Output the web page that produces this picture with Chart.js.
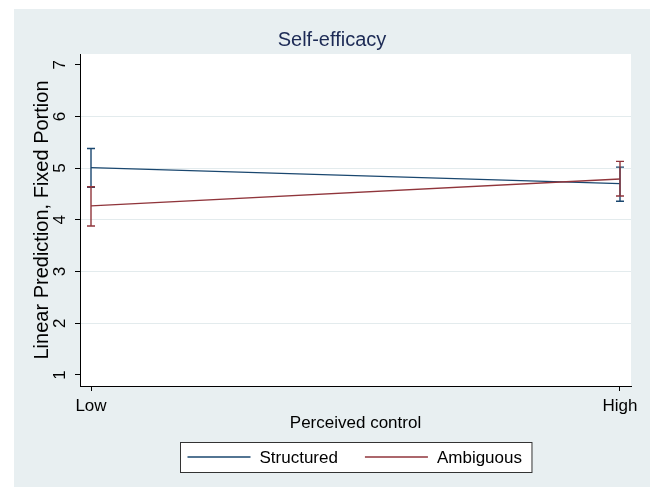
<!DOCTYPE html>
<html>
<head>
<meta charset="utf-8">
<script src="https://cdn.jsdelivr.net/npm/chart.js@4"></script>
<style>
  body { margin: 0; background: #fff; }
  canvas { display: block; }
</style>
</head>
<body>
<canvas id="marginsChart" width="650" height="488"></canvas>
<script>
const categories = ['Low', 'High']
const xPositions = [0, 1]
const yTicks = [1, 2, 3, 4, 5, 6, 7]

const seriesNames = ['Structured', 'Ambiguous']
const seriesColors = ['#1A476F', '#90353B']

const structuredFit = [5.01, 4.70]
const structuredLower = [4.63, 4.36]
const structuredUpper = [5.38, 5.02]

const ambiguousFit = [4.27, 4.79]
const ambiguousLower = [3.88, 4.46]
const ambiguousUpper = [4.64, 5.13]

const bgColor = '#E8EFF1'
const fontFamily = '"Liberation Sans", Arial, sans-serif'

const toPoints = (values) => values.map((v, i) => ({ x: xPositions[i], y: v }))

const bounds = [
  { lower: structuredLower, upper: structuredUpper },
  { lower: ambiguousLower, upper: ambiguousUpper }
]

const backgroundPlugin = {
  id: 'stataBackground',
  beforeDraw(chart) {
    const { ctx, chartArea } = chart
    ctx.save()
    ctx.fillStyle = '#fff'
    ctx.fillRect(0, 0, chart.width, chart.height)
    ctx.fillStyle = bgColor
    ctx.fillRect(14, 9, chart.width - 14, chart.height - 10)
    ctx.fillStyle = '#fff'
    ctx.fillRect(chartArea.left, chartArea.top, chartArea.right - chartArea.left, chartArea.bottom - chartArea.top)
    ctx.restore()
  }
}

// confidence interval caps, drawn through the chart's own scales
const capsPlugin = {
  id: 'ciCaps',
  afterDatasetsDraw(chart) {
    const { ctx, scales } = chart
    const capHalf = 4
    ctx.save()
    bounds.forEach((b, s) => {
      ctx.strokeStyle = seriesColors[s]
      ctx.lineWidth = 1.4
      xPositions.forEach((xv, i) => {
        const x = scales.x.getPixelForValue(xv)
        const yLo = scales.y.getPixelForValue(b.lower[i])
        const yHi = scales.y.getPixelForValue(b.upper[i])
        ctx.beginPath()
        ctx.moveTo(x, yLo)
        ctx.lineTo(x, yHi)
        ctx.moveTo(x - capHalf, yLo)
        ctx.lineTo(x + capHalf, yLo)
        ctx.moveTo(x - capHalf, yHi)
        ctx.lineTo(x + capHalf, yHi)
        ctx.stroke()
      })
    })
    ctx.restore()
  }
}

// boxed legend under the axis title
const boxLegendPlugin = {
  id: 'boxLegend',
  afterDraw(chart) {
    const { ctx, chartArea } = chart
    const sampleLen = 63
    const textGap = 9
    const itemGap = 27
    const padLeft = 7
    const padRight = 10
    const top = 442
    const height = 30
    ctx.save()
    ctx.font = `17px ${fontFamily}`
    const items = chart.data.datasets.map(ds => ({ label: ds.label, color: ds.borderColor, w: ctx.measureText(ds.label).width }))
    let total = 0
    items.forEach((it, i) => { total += sampleLen + textGap + it.w + (i > 0 ? itemGap : 0) })
    const boxW = padLeft + total + padRight
    const boxX = Math.round((chartArea.left + chartArea.right) / 2 - boxW / 2) + 0.5
    ctx.fillStyle = '#fff'
    ctx.fillRect(boxX, top + 0.5, boxW, height)
    ctx.strokeStyle = '#333'
    ctx.lineWidth = 1
    ctx.strokeRect(boxX, top + 0.5, boxW, height)
    const midY = top + height / 2
    let x = boxX + padLeft
    items.forEach((it, i) => {
      if (i > 0) x += itemGap
      ctx.strokeStyle = it.color
      ctx.lineWidth = 1.4
      ctx.beginPath()
      ctx.moveTo(x, midY)
      ctx.lineTo(x + sampleLen, midY)
      ctx.stroke()
      x += sampleLen + textGap
      ctx.fillStyle = '#000'
      ctx.textBaseline = 'middle'
      ctx.textAlign = 'left'
      ctx.fillText(it.label, x, midY + 1)
      x += it.w
    })
    ctx.restore()
  }
}

new Chart(document.getElementById('marginsChart'), {
  type: 'line',
  data: {
    datasets: [{
      label: seriesNames[0],
      data: toPoints(structuredFit),
      borderColor: seriesColors[0],
      backgroundColor: seriesColors[0],
      borderWidth: 1.4,
      pointRadius: 0,
      order: 1
    }, {
      label: seriesNames[1],
      data: toPoints(ambiguousFit),
      borderColor: seriesColors[1],
      backgroundColor: seriesColors[1],
      borderWidth: 1.4,
      pointRadius: 0,
      order: 0
    }]
  },
  options: {
    responsive: false,
    animation: false,
    devicePixelRatio: 1,
    layout: {
      padding: { left: 14, top: 9, right: 0, bottom: 54 }
    },
    plugins: {
      legend: { display: false },
      tooltip: { enabled: false },
      title: {
        display: true,
        text: 'Self-efficacy',
        color: '#1C2A55',
        font: { family: fontFamily, size: 20, weight: 'normal' },
        padding: { top: 19, bottom: 2 }
      }
    },
    scales: {
      x: {
        type: 'linear',
        min: -0.0208,
        max: 1.0208,
        afterBuildTicks: (scale) => { scale.ticks = xPositions.map(v => ({ value: v })) },
        afterFit: (scale) => { scale.height = 48 },
        ticks: {
          autoSkip: false,
          maxRotation: 0,
          padding: 5,
          color: '#000',
          font: { family: fontFamily, size: 17 },
          callback: (value) => categories[xPositions.indexOf(value)]
        },
        grid: {
          drawOnChartArea: false,
          tickLength: 5,
          tickColor: '#000'
        },
        border: { color: '#000', width: 1 },
        title: {
          display: true,
          text: 'Perceived control',
          color: '#000',
          font: { family: fontFamily, size: 17 },
          padding: 0
        }
      },
      y: {
        type: 'linear',
        position: 'left',
        min: 0.787,
        max: 7.207,
        afterBuildTicks: (scale) => { scale.ticks = yTicks.map(v => ({ value: v })) },
        afterFit: (scale) => { scale.width = 66 },
        ticks: {
          autoSkip: false,
          minRotation: 90,
          maxRotation: 90,
          crossAlign: 'center',
          padding: 10,
          color: '#000',
          font: { family: fontFamily, size: 17 }
        },
        grid: {
          color: (ctx) => (ctx.tick && (ctx.tick.value === yTicks[0] || ctx.tick.value === yTicks[yTicks.length - 1])) ? 'rgba(0,0,0,0)' : '#E3EBED',
          tickLength: 5,
          tickColor: '#000'
        },
        border: { color: '#000', width: 1 },
        title: {
          display: true,
          text: 'Linear Prediction, Fixed Portion',
          color: '#000',
          font: { family: fontFamily, size: 20 },
          padding: { top: 16, bottom: 0 }
        }
      },
      yPad: {
        type: 'linear',
        position: 'right',
        display: true,
        afterFit: (scale) => { scale.width = 19 },
        ticks: { display: false },
        grid: { display: false },
        border: { display: false }
      }
    }
  },
  plugins: [backgroundPlugin, capsPlugin, boxLegendPlugin]
})
</script>
</body>
</html>
